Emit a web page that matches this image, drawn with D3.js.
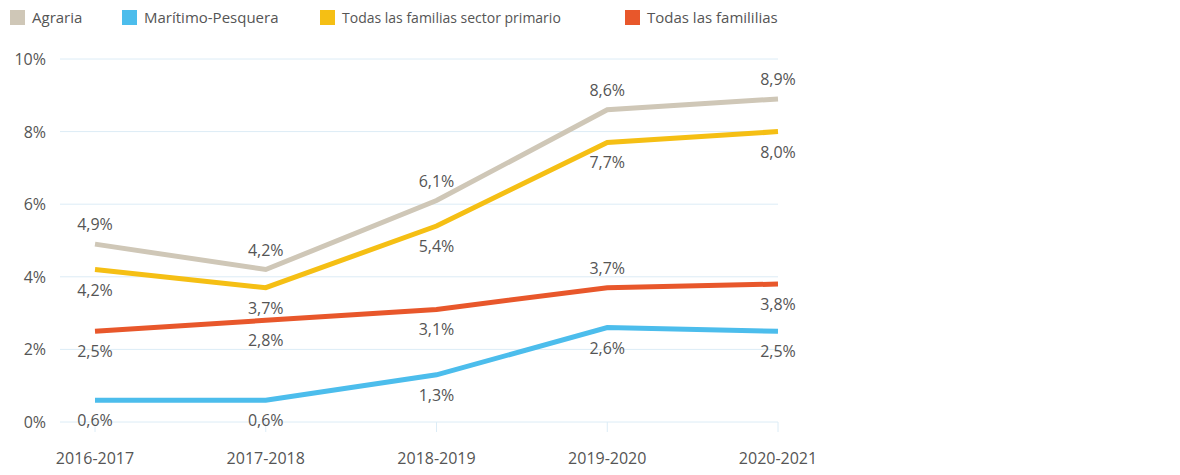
<!DOCTYPE html>
<html><head><meta charset="utf-8">
<script src="https://cdn.jsdelivr.net/npm/d3@7"></script>
<style>body{margin:0;background:#fff;font-family:"Open Sans",sans-serif;}</style>
</head><body><div id="chart"></div>
<script>
const categories = ['2016-2017','2017-2018','2018-2019','2019-2020','2020-2021'];
const agraria = [4.9, 4.2, 6.1, 8.6, 8.9];
const maritimo = [0.6, 0.6, 1.3, 2.6, 2.5];
const primario = [4.2, 3.7, 5.4, 7.7, 8.0];
const todas = [2.5, 2.8, 3.1, 3.7, 3.8];
const yTicks = [0, 2, 4, 6, 8, 10];

const series = [
  {name: 'Agraria', values: agraria, color: '#cfc7b7', pos: ['a','a','a','a','a'], lx: 10},
  {name: 'Marítimo-Pesquera', values: maritimo, color: '#4cbdec', pos: ['b','b','b','b','b'], lx: 122},
  {name: 'Todas las familias sector primario', values: primario, color: '#f5bf14', pos: ['b','b','b','b','b'], lx: 320, small: true},
  {name: 'Todas las famililias', values: todas, color: '#e8572b', pos: ['b','b','b','a','b'], lx: 625}
];

const W = 1180, H = 475;
const svg = d3.select('#chart').append('svg').attr('width', W).attr('height', H);
const x = d3.scalePoint().domain(categories).range([95, 778]);
const y = d3.scaleLinear().domain([0, 10]).range([422, 59]);
const fmt = v => d3.format('.1f')(v).replace('.', ',') + '%';

// grid
svg.append('g').selectAll('line').data(yTicks).join('line')
  .attr('x1', 60).attr('x2', 778).attr('y1', d => y(d)).attr('y2', d => y(d))
  .attr('stroke', '#dcecf6').attr('stroke-width', 1);
svg.append('g').selectAll('line').data(categories).join('line')
  .attr('x1', d => x(d)).attr('x2', d => x(d)).attr('y1', 422).attr('y2', 432)
  .attr('stroke', '#dcecf6');

svg.append('g').selectAll('text').data(yTicks).join('text')
  .attr('x', 46).attr('y', d => y(d) + 6).attr('text-anchor', 'end')
  .attr('font-size', 16).attr('fill', '#555').text(d => d + '%');
svg.append('g').selectAll('text').data(categories).join('text')
  .attr('x', d => x(d)).attr('y', 464).attr('text-anchor', 'middle')
  .attr('font-size', 16).attr('fill', '#555').text(d => d);

const line = d3.line().x((d, i) => x(categories[i])).y(d => y(d));
series.forEach(s => {
  svg.append('path').attr('d', line(s.values)).attr('fill', 'none')
    .attr('stroke', s.color).attr('stroke-width', 5);
});
series.forEach(s => {
  svg.append('g').selectAll('text').data(s.values).join('text')
    .attr('x', (d, i) => x(categories[i]))
    .attr('y', (d, i) => y(d) + (s.pos[i] === 'a' ? -14 : 26))
    .attr('text-anchor', 'middle').attr('font-size', 16).attr('fill', '#555')
    .text(fmt);
});

// legend
const lg = svg.append('g');
series.forEach(s => {
  lg.append('rect').attr('x', s.lx).attr('y', 10).attr('width', 15).attr('height', 15).attr('fill', s.color);
  lg.append('text').attr('x', s.lx + 22).attr('y', 23).attr('font-size', s.small ? 14 : 15)
    .attr('fill', '#555').text(s.name);
});
</script></body></html>
